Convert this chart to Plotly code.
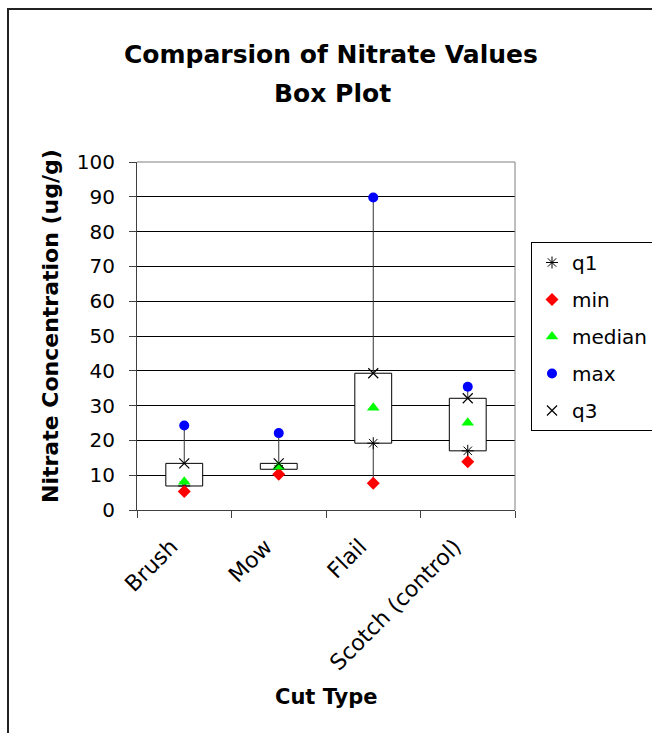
import plotly.graph_objects as go

categories = ["Brush", "Mow", "Flail", "Scotch (control)"]
q1_vals = [6.9, 11.7, 19.2, 17.0]
min_vals = [5.3, 10.3, 7.7, 13.9]
median_vals = [8.1, 12.4, 29.4, 25.1]
max_vals = [24.3, 22.1, 89.8, 35.4]
q3_vals = [13.4, 13.4, 39.3, 32.1]

FONT = "DejaVu Sans"

W, H = 652, 733
L, R, T, B = 137, 137, 162, 223
PW, PH = W - L - R, H - T - B


def px_x(px):
    return (px - L) / PW


def px_y(py):
    return (H - B - py) / PH


fig = go.Figure()

# up-down bars (q1 to q3)
fig.add_trace(go.Bar(
    x=categories,
    y=[b - a for a, b in zip(q1_vals, q3_vals)],
    base=q1_vals,
    width=0.39,
    marker=dict(color="white", line=dict(color="black", width=1)),
    showlegend=False,
    hoverinfo="skip",
))

# whiskers: min->q1 and q3->max
wx, wy = [], []
for c, lo, a, b, hi in zip(categories, min_vals, q1_vals, q3_vals, max_vals):
    wx += [c, c, None, c, c, None]
    wy += [lo, a, None, b, hi, None]
fig.add_trace(go.Scatter(
    x=wx, y=wy, mode="lines",
    line=dict(color="#333333", width=1),
    showlegend=False, hoverinfo="skip",
))

series = [
    ("q1", q1_vals, dict(symbol="asterisk-open", size=10, color="black", line=dict(color="black", width=1))),
    ("min", min_vals, dict(symbol="diamond", size=10, color="#FF0000", line=dict(width=0))),
    ("median", median_vals, dict(symbol="triangle-up", size=11, color="#00FF00", line=dict(width=0))),
    ("max", max_vals, dict(symbol="circle", size=10, color="#0000FF", line=dict(width=0))),
    ("q3", q3_vals, dict(symbol="x-thin-open", size=10, color="black", line=dict(color="black", width=1.2))),
]
for name, vals, mk in series:
    fig.add_trace(go.Scatter(
        x=categories, y=vals, mode="markers", name=name,
        marker=mk, legendgroup=name,
    ))

fig.update_layout(
    width=W, height=H,
    margin=dict(l=L, r=R, t=T, b=B, autoexpand=False),
    paper_bgcolor="white", plot_bgcolor="white",
    font=dict(family=FONT, size=20, color="black"),
    barmode="overlay",
    showlegend=True,
    legend=dict(
        x=px_x(531), y=px_y(242), xanchor="left", yanchor="top",
        bordercolor="black", borderwidth=1, bgcolor="white",
        font=dict(family=FONT, size=20, color="black"),
        tracegroupgap=8,
        itemsizing="trace",
    ),
    xaxis=dict(
        type="category", categoryorder="array", categoryarray=categories,
        range=[-0.5, 3.5],
        showline=True, linecolor="#404040", linewidth=1,
        ticks="outside", tickson="boundaries", ticklen=7, tickcolor="#404040",
        tickangle=-45, showgrid=False,
        ticklabelstandoff=14, ticklabelshift=-13,
        tickfont=dict(family=FONT, size=22, color="black"),
    ),
    yaxis=dict(
        range=[0, 100], dtick=10, tick0=0,
        showline=True, linecolor="#404040", linewidth=1,
        ticks="outside", ticklen=7, tickcolor="#404040",
        showgrid=True, gridcolor="black", gridwidth=1,
        zeroline=False, ticklabelstandoff=10,
        tickfont=dict(family=FONT, size=20, color="black"),
    ),
    shapes=[
        # outer chart border
        dict(type="rect", xref="paper", yref="paper",
             x0=px_x(8), x1=px_x(700), y0=px_y(780), y1=px_y(9),
             line=dict(color="#222222", width=2), fillcolor="rgba(0,0,0,0)", layer="below"),
        # plot area top and right edges
        dict(type="line", xref="paper", yref="paper", x0=0, x1=1, y0=1, y1=1,
             line=dict(color="#808080", width=1)),
        dict(type="line", xref="paper", yref="paper", x0=1, x1=1, y0=0, y1=1,
             line=dict(color="#808080", width=1)),
    ],
    annotations=[
        dict(text="<b>Comparsion of Nitrate Values</b>", xref="paper", yref="paper",
             x=px_x(331), y=px_y(55), xanchor="center", yanchor="middle", showarrow=False,
             font=dict(family=FONT, size=25, color="black")),
        dict(text="<b>Box Plot</b>", xref="paper", yref="paper",
             x=px_x(332), y=px_y(93), xanchor="center", yanchor="middle", showarrow=False,
             font=dict(family=FONT, size=25, color="black")),
        dict(text="<b>Nitrate Concentration (ug/g)</b>", xref="paper", yref="paper",
             x=px_x(50), y=px_y(326), xanchor="center", yanchor="middle", textangle=-90,
             showarrow=False, font=dict(family=FONT, size=22, color="black")),
        dict(text="<b>Cut Type</b>", xref="paper", yref="paper",
             x=px_x(326), y=px_y(697), xanchor="center", yanchor="middle",
             showarrow=False, font=dict(family=FONT, size=21, color="black")),
    ],
)

fig.write_html("out.html")
